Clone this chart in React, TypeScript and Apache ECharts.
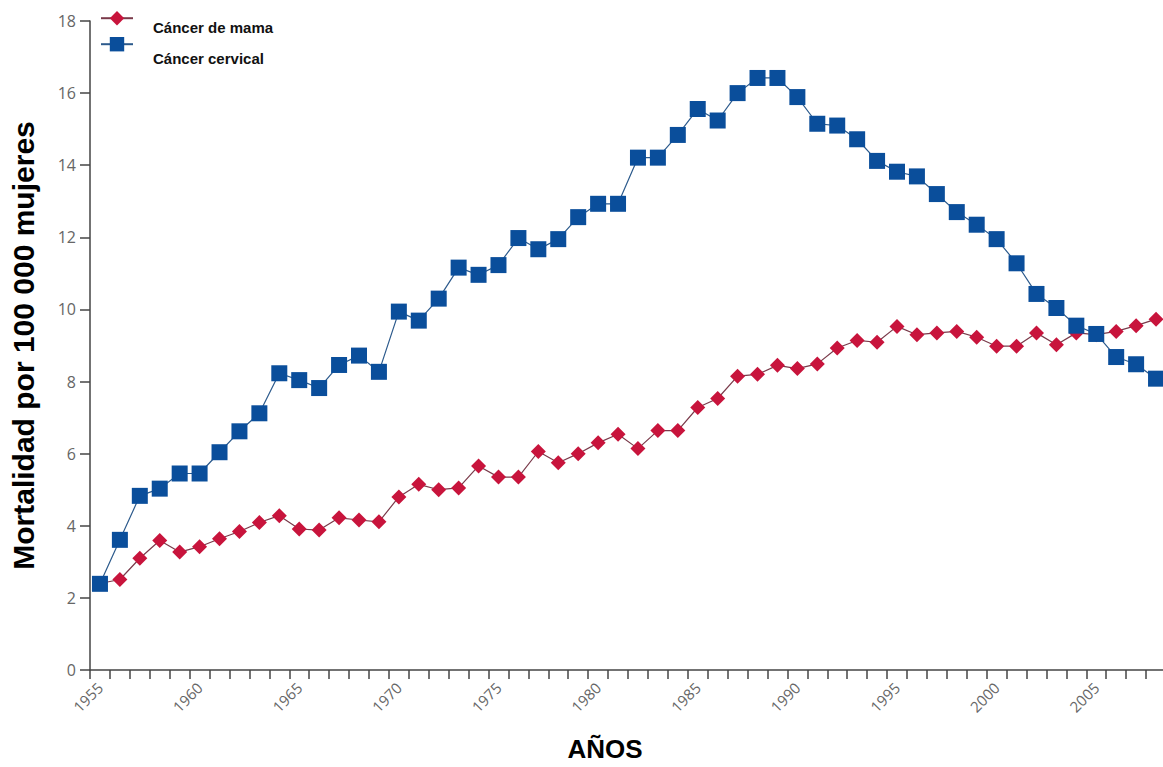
import React, { useEffect, useRef } from "react";
import * as echarts from "echarts";

const years: string[] = [];
for (let y = 1955; y <= 2008; y++) years.push(String(y));

const mamaValues = [
  2.4, 2.51, 3.1, 3.59, 3.27, 3.42, 3.64, 3.84, 4.09, 4.28,
  3.91, 3.88, 4.22, 4.16, 4.11, 4.8, 5.15, 5.0, 5.05, 5.66,
  5.35, 5.35, 6.06, 5.75, 6.0, 6.3, 6.54, 6.14, 6.64, 6.64,
  7.28, 7.53, 8.15, 8.2, 8.45, 8.36, 8.49, 8.93, 9.14, 9.09,
  9.53, 9.3, 9.35, 9.39, 9.23, 8.98, 8.98, 9.35, 9.02, 9.35,
  9.3, 9.39, 9.55, 9.73,
];

const cervicalValues = [
  2.39, 3.61, 4.83, 5.03, 5.45, 5.45, 6.04, 6.62, 7.12, 8.23,
  8.04, 7.82, 8.46, 8.72, 8.27, 9.94, 9.69, 10.3, 11.16, 10.96,
  11.23, 11.98, 11.67, 11.95, 12.56, 12.93, 12.93, 14.21, 14.21, 14.84,
  15.56, 15.24, 16.0, 16.42, 16.42, 15.89, 15.15, 15.1, 14.72, 14.12,
  13.82, 13.69, 13.2, 12.7, 12.35, 11.95, 11.28, 10.43, 10.04, 9.55,
  9.32, 8.68, 8.48, 8.08,
];

const seriesNames = ["Cáncer de mama", "Cáncer cervical"];
const xTitle = "AÑOS";
const yTitle = "Mortalidad por 100 000 mujeres";

export default function App() {
  const ref = useRef<HTMLDivElement>(null);
  useEffect(() => {
    if (!ref.current) return;
    const chart = echarts.init(ref.current, undefined, { renderer: "svg" });
    const legendFont = {
      fontFamily: "Liberation Sans, Arial, sans-serif",
      fontWeight: "bold" as const,
      fontSize: 15,
      color: "#111",
    };
    const makeLegend = (name: string, top: number, shift: number) => ({
      data: [name],
      left: 100,
      top,
      padding: 0,
      itemWidth: 32,
      itemHeight: 18,
      itemGap: 0,
      formatter: "{t|{name}}",
      textStyle: {
        ...legendFont,
        rich: {
          t: { ...legendFont, padding: [shift * 2, 0, 0, 15] },
        },
      },
    });
    chart.setOption({
      animation: false,
      backgroundColor: "#fff",
      grid: { left: 87, top: 21, width: 1079, height: 655, containLabel: false },
      legend: [makeLegend(seriesNames[0], 11, 9), makeLegend(seriesNames[1], 37, 14)],
      xAxis: {
        type: "category",
        data: years,
        boundaryGap: true,
        name: xTitle,
        nameLocation: "middle",
        nameGap: 66,
        nameTextStyle: {
          fontFamily: "Liberation Sans, Arial, sans-serif",
          fontWeight: "bold",
          fontSize: 26,
          color: "#000",
          padding: [0, 46, 0, 0],
        },
        axisLine: { lineStyle: { color: "#444", width: 1.5 } },
        axisTick: { show: true, interval: 0, length: 9, lineStyle: { color: "#444", width: 1.5 } },
        axisLabel: {
          interval: 4,
          rotate: 45,
          margin: 15,
          fontFamily: "Open Sans, sans-serif",
          fontSize: 15,
          color: "#666",
        },
        splitLine: { show: false },
      },
      yAxis: {
        type: "value",
        min: 0,
        max: 18,
        interval: 2,
        name: yTitle,
        nameLocation: "middle",
        nameGap: 52,
        nameRotate: 90,
        nameTextStyle: {
          fontFamily: "Liberation Sans, Arial, sans-serif",
          fontWeight: "bold",
          fontSize: 30,
          color: "#000",
        },
        axisLine: { show: true, lineStyle: { color: "#444", width: 1.5 } },
        axisTick: { show: true, length: 10, lineStyle: { color: "#444", width: 1.5 } },
        axisLabel: {
          margin: 14,
          fontFamily: "Open Sans, sans-serif",
          fontSize: 16,
          color: "#666",
        },
        splitLine: { show: false },
      },
      series: [
        {
          name: seriesNames[0],
          type: "line",
          data: mamaValues,
          symbol: "diamond",
          symbolSize: 15,
          showAllSymbol: true,
          itemStyle: { color: "#c8143c" },
          lineStyle: { color: "#7a3a4a", width: 1.2 },
        },
        {
          name: seriesNames[1],
          type: "line",
          data: cervicalValues,
          symbol: "rect",
          symbolSize: 16,
          showAllSymbol: true,
          itemStyle: { color: "#0a4e9b" },
          lineStyle: { color: "#2c5a8c", width: 1.2 },
        },
      ],
    });
    return () => chart.dispose();
  }, []);
  return (
    <div style={{ position: "absolute", left: 0, top: 0, width: 1163, height: 767, overflow: "hidden", background: "#fff" }}>
      <div ref={ref} style={{ width: 1170, height: 767 }} />
    </div>
  );
}
